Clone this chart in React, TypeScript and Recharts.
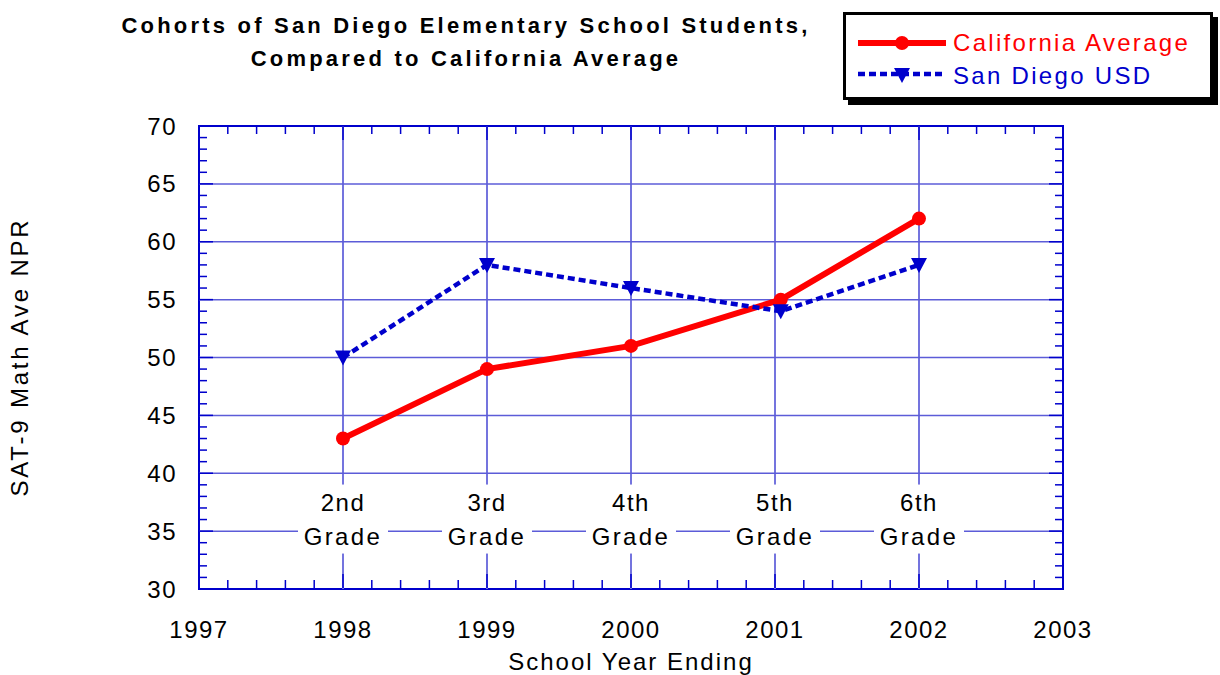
import React from 'react';
import { LineChart, Line, XAxis, YAxis, ReferenceLine, ReferenceDot, ReferenceArea, Label } from 'recharts';

// values
const schoolYears = [1998, 1999, 2000, 2001.04, 2002];
const californiaAverage = [43, 49, 51, 55, 62];
const sanDiegoUSD = [50, 58, 56, 54, 58];
const gradeYears = [1998, 1999, 2000, 2001, 2002];
const gradeLabels = ['2nd', '3rd', '4th', '5th', '6th'];
const yearTicks = [1997, 1998, 1999, 2000, 2001, 2002, 2003];
const nprTicks = [30, 35, 40, 45, 50, 55, 60, 65, 70];

const data = schoolYears.map((year, i) => ({ year, ca: californiaAverage[i], sd: sanDiegoUSD[i] }));

// minor tick marks: every 0.2 year, every 1 point
const minorYearTicks = Array.from({ length: 31 }, (_, i) => Math.round((1997 + i * 0.2) * 10) / 10);
const minorNprTicks = Array.from({ length: 41 }, (_, i) => 30 + i);

const W = 1220;
const H = 675;
const MARGIN = { top: 126, right: 157, bottom: 85, left: 198 };
const PLOT_TOP = MARGIN.top;
const PLOT_RIGHT = W - MARGIN.right;
const FONT = '"Liberation Sans", Arial, sans-serif';
const AXIS_BLUE = '#0000cc';
const GRID_BLUE = '#7474de';
const RED = '#ff0000';

const XTick = (props: any) => {
  const { x, y, payload } = props;
  const v = payload.value;
  const major = yearTicks.includes(v);
  const len = major ? 14 : 8;
  const axisY = y - 1;
  return (
    <g>
      <line x1={x} x2={x} y1={axisY} y2={axisY - len} stroke={AXIS_BLUE} strokeWidth={1.5} />
      <line x1={x} x2={x} y1={PLOT_TOP} y2={PLOT_TOP + len} stroke={AXIS_BLUE} strokeWidth={1.5} />
      {major && (
        <text x={x} y={axisY + 50} textAnchor="middle" fontSize={24} fontFamily={FONT} fill="#000" style={{ letterSpacing: 1.5 }}>
          {v}
        </text>
      )}
    </g>
  );
};

const YTick = (props: any) => {
  const { x, y, payload } = props;
  const v = payload.value;
  const major = nprTicks.includes(v);
  const len = major ? 14 : 8;
  return (
    <g>
      <line x1={x} x2={x + len} y1={y} y2={y} stroke={AXIS_BLUE} strokeWidth={1.5} />
      <line x1={PLOT_RIGHT} x2={PLOT_RIGHT - len} y1={y} y2={y} stroke={AXIS_BLUE} strokeWidth={1.5} />
      {major && (
        <text x={x - 22} y={y + 8.5} textAnchor="end" fontSize={24} fontFamily={FONT} fill="#000" style={{ letterSpacing: 1.5 }}>
          {v}
        </text>
      )}
    </g>
  );
};

const GradeLabel = ({ cx, cy, text }: any) => (
  <g>
    <rect x={cx - 45} y={cy - 35} width={90} height={69} fill="#fff" />
    <text x={cx} y={cy - 8.5} textAnchor="middle" fontSize={24} fontFamily={FONT} fill="#000" style={{ letterSpacing: 1.5 }}>
      {text}
    </text>
    <text x={cx} y={cy + 25.5} textAnchor="middle" fontSize={24} fontFamily={FONT} fill="#000" style={{ letterSpacing: 2.4 }}>
      Grade
    </text>
  </g>
);

const TriangleDot = ({ cx, cy }: any) => (
  <polygon points={`${cx - 8},${cy - 7} ${cx + 8},${cy - 7} ${cx},${cy + 8}`} fill={AXIS_BLUE} />
);

const legendText: React.CSSProperties = { fontSize: 24, letterSpacing: 2.3, lineHeight: '33px', marginLeft: 7 };

export default function App() {
  return (
    <div style={{ position: 'relative', width: W, height: H, fontFamily: FONT, background: '#fff' }}>
      <style>{'body{margin:0}'}</style>

      <div
        style={{
          position: 'absolute',
          left: 466,
          top: 9,
          transform: 'translateX(-50%)',
          textAlign: 'center',
          fontWeight: 'bold',
          fontSize: 22,
          letterSpacing: 3.2,
          lineHeight: '33px',
          whiteSpace: 'nowrap',
          color: '#000',
        }}
      >
        Cohorts of San Diego Elementary School Students,
        <br />
        Compared to California Average
      </div>

      <div
        style={{
          position: 'absolute',
          left: 843,
          top: 12,
          width: 352,
          height: 71,
          border: '3px solid #000',
          boxShadow: '5px 5px 0 #000',
          background: '#fff',
          paddingTop: 11,
          paddingLeft: 12,
          boxSizing: 'content-box',
        }}
      >
        <div style={{ display: 'flex', alignItems: 'center', height: 33 }}>
          <svg width={88} height={16}>
            <line x1={0} x2={88} y1={8} y2={8} stroke={RED} strokeWidth={6} />
            <circle cx={44} cy={8} r={7} fill={RED} />
          </svg>
          <span style={{ ...legendText, color: RED }}>California Average</span>
        </div>
        <div style={{ display: 'flex', alignItems: 'center', height: 33 }}>
          <svg width={88} height={18}>
            <line x1={0} x2={88} y1={7} y2={7} stroke={AXIS_BLUE} strokeWidth={4.5} strokeDasharray="7 4" />
            <polygon points="36,1 52,1 44,16" fill={AXIS_BLUE} />
          </svg>
          <span style={{ ...legendText, color: AXIS_BLUE }}>San Diego USD</span>
        </div>
      </div>

      <div
        style={{
          position: 'absolute',
          left: 20,
          top: 357,
          transform: 'translate(-50%, -50%) rotate(-90deg)',
          fontSize: 24,
          letterSpacing: 2.8,
          whiteSpace: 'nowrap',
          color: '#000',
        }}
      >
        SAT-9 Math Ave NPR
      </div>

      <div style={{ position: 'absolute', left: 0, top: 0 }}>
        <LineChart width={W} height={H} data={data} margin={MARGIN}>
          <XAxis
            dataKey="year"
            type="number"
            domain={[1997, 2003]}
            ticks={minorYearTicks}
            interval={0}
            allowDataOverflow
            height={1}
            tickSize={0}
            tickMargin={0}
            tickLine={false}
            axisLine={false}
            tick={(p: any) => <XTick {...p} />}
          >
            <Label
              value="School Year Ending"
              position="bottom"
              offset={63}
              fontSize={24}
              fontFamily={FONT}
              fill="#000"
              style={{ letterSpacing: 2 }}
            />
          </XAxis>
          <YAxis
            type="number"
            domain={[30, 70]}
            ticks={minorNprTicks}
            interval={0}
            allowDataOverflow
            width={1}
            tickSize={0}
            tickMargin={0}
            tickLine={false}
            axisLine={false}
            tick={(p: any) => <YTick {...p} />}
          />

          {yearTicks.slice(1, -1).map((yr) => (
            <ReferenceLine key={'v' + yr} x={yr} stroke={GRID_BLUE} strokeWidth={2} />
          ))}
          {nprTicks.slice(1, -1).map((v) => (
            <ReferenceLine key={'h' + v} y={v} stroke="#5c5cd8" strokeWidth={1.5} />
          ))}
          <ReferenceArea x1={1997} x2={2003} y1={30} y2={70} fill="none" fillOpacity={0} stroke={AXIS_BLUE} strokeWidth={2} />

          {gradeYears.map((yr, i) => (
            <ReferenceDot
              key={'g' + yr}
              x={yr}
              y={36}
              r={1}
              shape={(p: any) => <GradeLabel cx={p.cx} cy={p.cy} text={gradeLabels[i]} />}
            />
          ))}

          <Line
            dataKey="ca"
            stroke={RED}
            strokeWidth={6}
            dot={{ r: 7, fill: RED, stroke: RED, strokeWidth: 0 }}
            isAnimationActive={false}
          />
          <Line
            dataKey="sd"
            stroke={AXIS_BLUE}
            strokeWidth={4.5}
            strokeDasharray="7 4"
            dot={(p: any) => <TriangleDot key={'t' + p.index} cx={p.cx} cy={p.cy} />}
            isAnimationActive={false}
          />
        </LineChart>
      </div>
    </div>
  );
}
